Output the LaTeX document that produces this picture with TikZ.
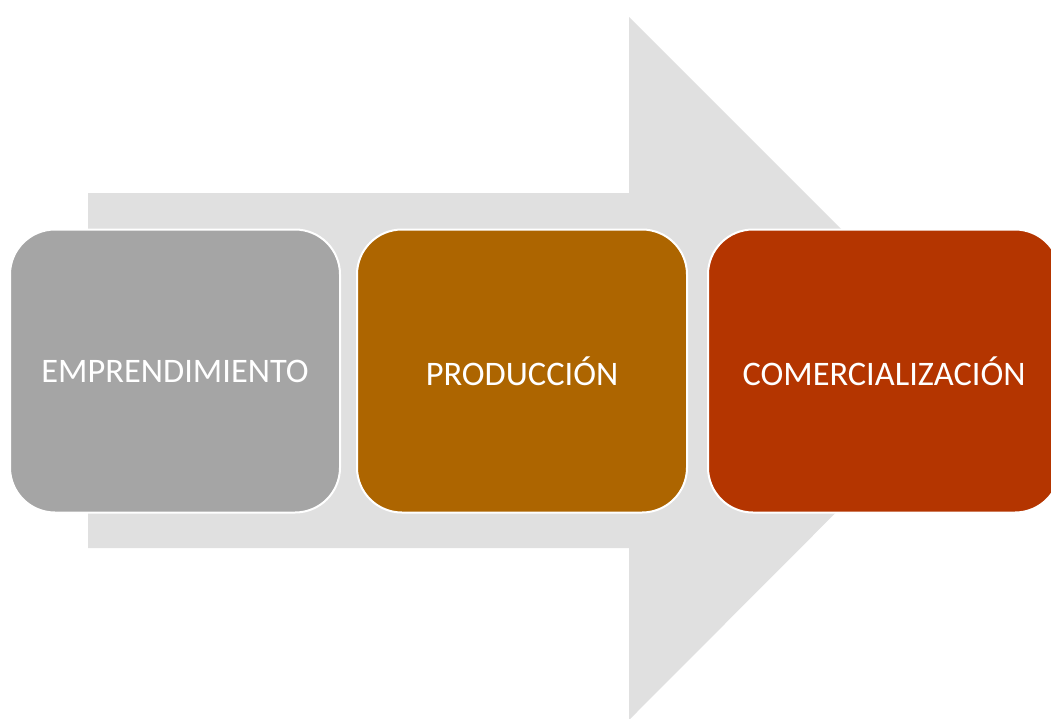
\documentclass[tikz,border=0pt]{standalone}
\usepackage{fontspec}
\setmainfont{Carlito}
\definecolor{arrowgray}{HTML}{E0E0E0}
\definecolor{stepgray}{HTML}{A5A5A5}
\definecolor{steporange}{HTML}{AD6500}
\definecolor{stepred}{HTML}{B43500}
\tikzset{
  stagebox/.style={rounded corners=45pt, draw=white, line width=2pt,
    minimum width=330pt, minimum height=283pt, text=white,
    font=\fontsize{34.4}{40}\selectfont, inner sep=0pt},
}
\begin{document}
\begin{tikzpicture}[x=1pt, y=-1pt]
    \clip (0,0) rectangle (1051,718);
    \fill[white] (0,0) rectangle (1051,718);

    % big background arrow
    \fill[arrowgray] (88,193) -- (629,193) -- (629,17) -- (980,368)
        -- (629,720) -- (629,548) -- (88,548) -- cycle;

    \node[stagebox, fill=stepgray] (emp) at (175,371) {EMPRENDIMIENTO};
    \node[stagebox, fill=steporange] (prod) at (522,371) {PRODUCCIÓN};
    \node[stagebox, fill=stepred, minimum width=352pt] (com) at (884,371) {COMERCIALIZACIÓN};
\end{tikzpicture}
\end{document}
